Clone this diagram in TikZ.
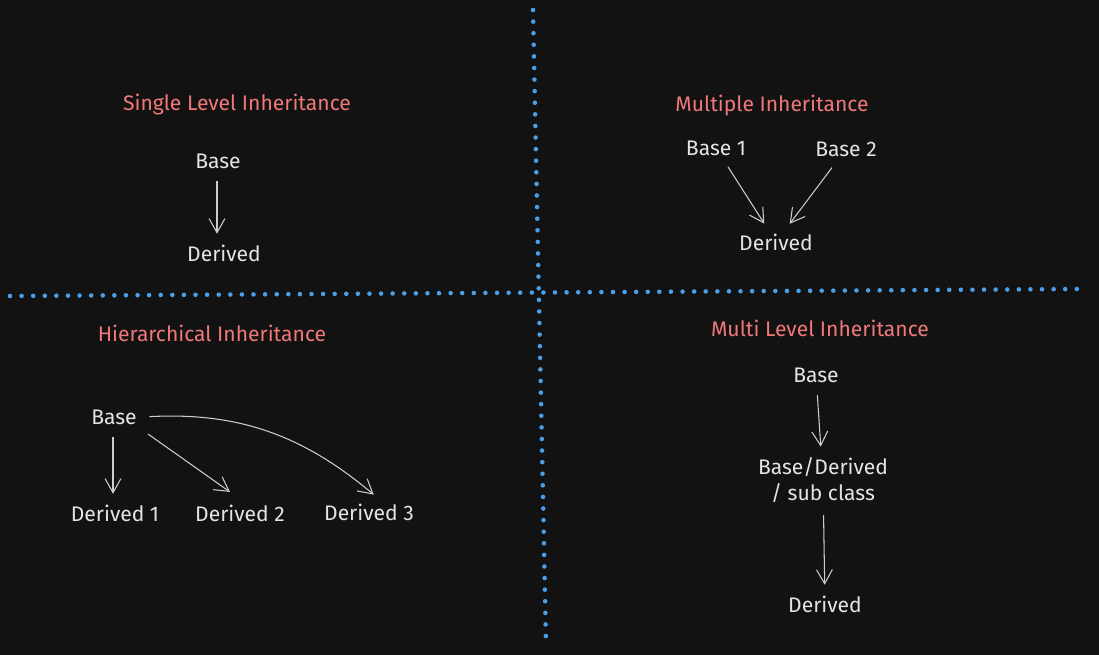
\documentclass[tikz,border=0pt]{standalone}
\usepackage{fontspec}
\setmainfont{Fira Sans}
\usetikzlibrary{arrows.meta}
\definecolor{boardbg}{HTML}{121212}
\definecolor{titlered}{HTML}{F07878}
\definecolor{chalk}{HTML}{E4E4E4}
\definecolor{dotblue}{HTML}{4A9FE8}
\tikzset{
  title/.style={text=titlered,font=\fontsize{12}{14}\selectfont},
  cls/.style={text=chalk,font=\fontsize{12}{14.7}\selectfont,inner sep=3pt},
  inh/.style={draw=chalk!90!black,line width=0.6pt,shorten <=4pt,shorten >=3pt,
    -{Straight Barb[length=8pt,width=9pt,line width=0.6pt]}},
  divider/.style={draw=dotblue,line width=2.6pt,line cap=round,dash pattern=on 0pt off 6.6pt}
}
\begin{document}
\begin{tikzpicture}[x=0.02cm,y=-0.02cm]
  \fill[boardbg] (0,0) rectangle (1099,655);
  \useasboundingbox (0,0) rectangle (1099,655);
  % dotted dividers
  \coordinate (vtop) at (533,10);
  \coordinate (vbot) at (546,643);
  \coordinate (hleft) at (10,296);
  \coordinate (hright) at (1080,289);
  \draw[divider] (vtop) -- (vbot);
  \draw[divider] (hleft) -- (hright);
  % single level
  \node[title] (stitle) at (237,105) {Single Level Inheritance};
  \node[cls] (sbase) at (218,161) {Base};
  \node[cls] (sderived) at (224,253) {Derived};
  \draw[inh] (sbase.south -| 217,0) -- (sderived.north -| 217,0);
  % multiple
  \node[title] (mtitle) at (772,106) {Multiple Inheritance};
  \node[cls] (mbase1) at (716,148) {Base 1};
  \node[cls] (mbase2) at (846,149) {Base 2};
  \node[cls] (mderived) at (776,242) {Derived};
  \draw[inh] (mbase1) -- (mderived);
  \draw[inh] (mbase2) -- (mderived);
  % hierarchical
  \node[title] (htitle) at (212,333) {Hierarchical Inheritance};
  \node[cls] (hbase) at (114,417) {Base};
  \node[cls] (hd1) at (115,513) {Derived 1};
  \node[cls] (hd2) at (240,513) {Derived 2};
  \node[cls] (hd3) at (369,512) {Derived 3};
  \draw[inh] (hbase.south -| 113,0) -- (hd1.north -| 113,0);
  \draw[inh,shorten >=7pt] (hbase.south east) -- (hd2.north);
  \draw[inh] (hbase.east) to[out=3,in=140] ([xshift=5pt]hd3.north);
  % multi level
  \node[title] (ltitle) at (820,328) {Multi Level Inheritance};
  \node[cls] (lbase) at (816,375) {Base};
  \node[cls,align=center] (lmid) at (823,480) {Base/Derived\\/ sub class};
  \node[cls] (lderived) at (825,604) {Derived};
  \draw[inh] (lbase) -- (lmid);
  \draw[inh] (lmid) -- (lderived);
\end{tikzpicture}
\end{document}
